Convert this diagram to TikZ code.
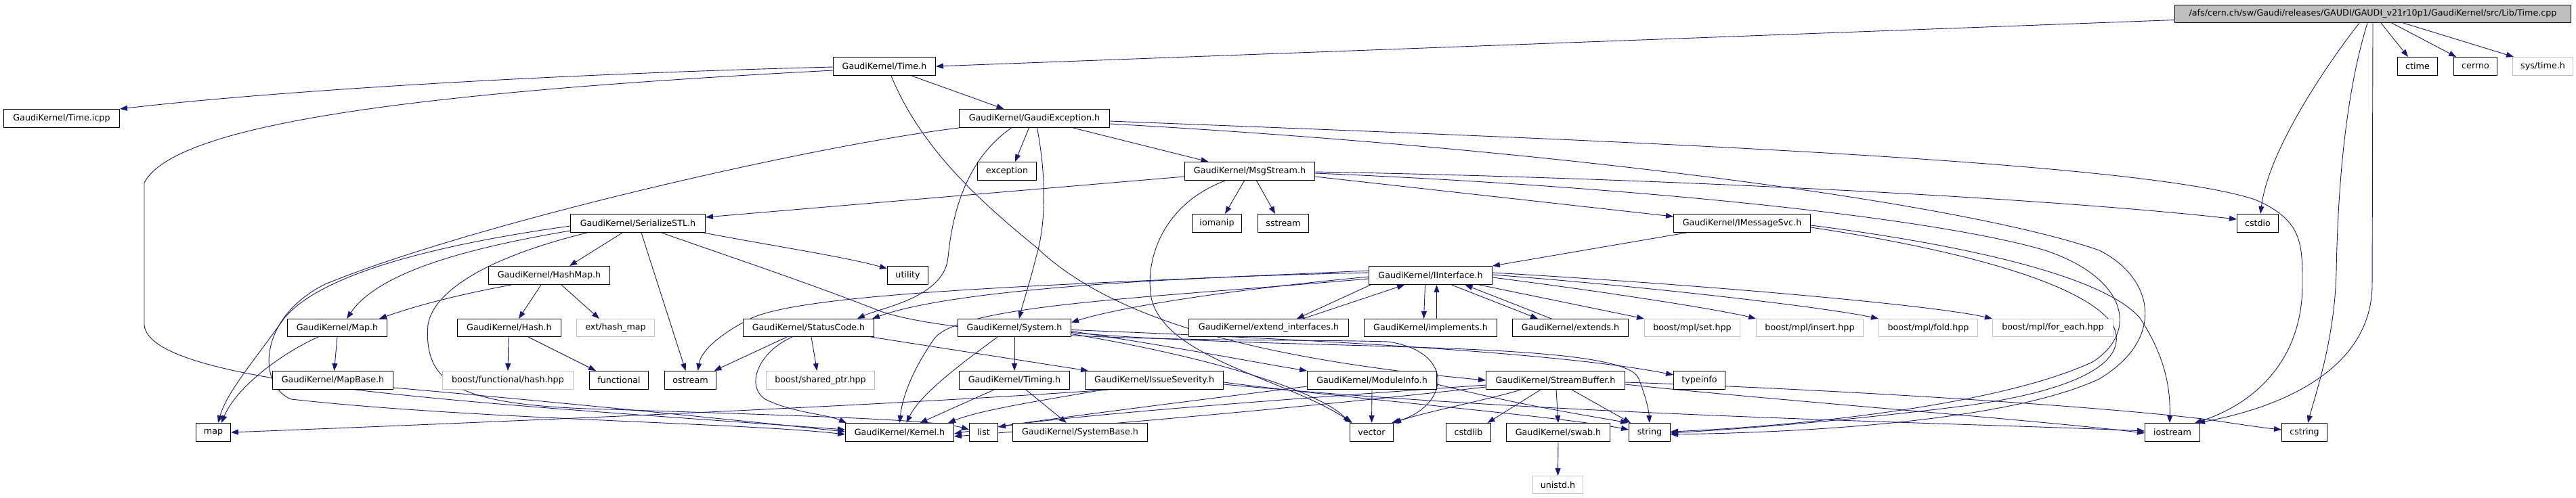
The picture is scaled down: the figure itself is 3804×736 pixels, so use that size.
\documentclass[tikz,border=0pt]{standalone}
\usepackage{fontspec}
\setmainfont{DejaVu Sans}
\usetikzlibrary{arrows.meta}
\definecolor{edgeblue}{HTML}{191970}
\definecolor{missgray}{HTML}{BFBFBF}
\pgfdeclarelayer{bg}
\pgfsetlayers{bg,main}
\begin{document}
\begin{tikzpicture}[x=1pt,y=-1pt,
  box/.style={draw=black, fill=white, line width=1pt, inner sep=0pt, rectangle, anchor=north west, font=\fontsize{12.7}{15}\selectfont},
  miss/.style={box, draw=missgray},
  edge/.style={draw=edgeblue, line width=0.9pt, -{Triangle[length=11pt,width=8pt]}}]
\begin{pgfonlayer}{bg}
\fill[white] (0,0) rectangle (3804,736);
\end{pgfonlayer}
\useasboundingbox (0,0) rectangle (3804,736);
% ---------------- nodes ----------------
\node[box, fill=missgray, minimum width=585pt, minimum height=26pt] (root) at (3211,7) {/afs/cern.ch/sw/Gaudi/releases/GAUDI/GAUDI\_v21r10p1/GaudiKernel/src/Lib/Time.cpp};
\node[box, minimum width=151pt, minimum height=27pt] (timeh) at (1230,84) {GaudiKernel/Time.h};
\node[box, minimum width=59pt, minimum height=27pt] (ctime) at (3540,84) {ctime};
\node[box, minimum width=64pt, minimum height=27pt] (cerrno) at (3623,84) {cerrno};
\node[miss, minimum width=89pt, minimum height=27pt] (systime) at (3710,84) {sys/time.h};
\node[box, minimum width=171pt, minimum height=27pt] (timeicpp) at (5,161) {GaudiKernel/Time.icpp};
\node[box, minimum width=222pt, minimum height=27pt] (gexc) at (1416,161) {GaudiKernel/GaudiException.h};
\node[box, minimum width=87pt, minimum height=27pt] (exception) at (1443,239) {exception};
\node[box, minimum width=192pt, minimum height=27pt] (msgstream) at (1749,239) {GaudiKernel/MsgStream.h};
\node[box, minimum width=199pt, minimum height=27pt] (serial) at (842,316) {GaudiKernel/SerializeSTL.h};
\node[box, minimum width=73pt, minimum height=27pt] (iomanip) at (1760,316) {iomanip};
\node[box, minimum width=75pt, minimum height=27pt] (sstream) at (1857,316) {sstream};
\node[box, minimum width=202pt, minimum height=27pt] (imsg) at (2471,316) {GaudiKernel/IMessageSvc.h};
\node[box, minimum width=61pt, minimum height=27pt] (cstdio) at (3303,316) {cstdio};
\node[box, minimum width=179pt, minimum height=27pt] (hashmap) at (721,393) {GaudiKernel/HashMap.h};
\node[box, minimum width=60pt, minimum height=27pt] (utility) at (1310,393) {utility};
\node[box, minimum width=182pt, minimum height=27pt] (iinterface) at (2021,393) {GaudiKernel/IInterface.h};
\node[box, minimum width=147pt, minimum height=26pt] (maph) at (424,471) {GaudiKernel/Map.h};
\node[box, minimum width=153pt, minimum height=26pt] (hashh) at (675,471) {GaudiKernel/Hash.h};
\node[miss, minimum width=115pt, minimum height=26pt] (exthash) at (851,471) {ext/hash\_map};
\node[box, minimum width=193pt, minimum height=26pt] (statuscode) at (1097,471) {GaudiKernel/StatusCode.h};
\node[box, minimum width=167pt, minimum height=26pt] (system) at (1414,471) {GaudiKernel/System.h};
\node[box, minimum width=236pt, minimum height=26pt] (extint) at (1755,471) {GaudiKernel/extend\_interfaces.h};
\node[box, minimum width=196pt, minimum height=26pt] (implements) at (2014,471) {GaudiKernel/implements.h};
\node[box, minimum width=171pt, minimum height=26pt] (extends) at (2233,471) {GaudiKernel/extends.h};
\node[miss, minimum width=141pt, minimum height=26pt] (mplset) at (2428,471) {boost/mpl/set.hpp};
\node[miss, minimum width=158pt, minimum height=26pt] (mplinsert) at (2593,471) {boost/mpl/insert.hpp};
\node[miss, minimum width=146pt, minimum height=26pt] (mplfold) at (2774,471) {boost/mpl/fold.hpp};
\node[miss, minimum width=178pt, minimum height=26pt] (mplforeach) at (2942,471) {boost/mpl/for\_each.hpp};
\node[box, minimum width=178pt, minimum height=27pt] (mapbase) at (402,548) {GaudiKernel/MapBase.h};
\node[miss, minimum width=193pt, minimum height=27pt] (bfhash) at (653,548) {boost/functional/hash.hpp};
\node[box, minimum width=87pt, minimum height=27pt] (functional) at (870,548) {functional};
\node[box, minimum width=76pt, minimum height=27pt] (ostream) at (981,548) {ostream};
\node[miss, minimum width=160pt, minimum height=27pt] (bshared) at (1131,548) {boost/shared\_ptr.hpp};
\node[box, minimum width=163pt, minimum height=27pt] (timing) at (1416,548) {GaudiKernel/Timing.h};
\node[box, minimum width=204pt, minimum height=27pt] (issue) at (1602,548) {GaudiKernel/IssueSeverity.h};
\node[box, minimum width=191pt, minimum height=27pt] (moduleinfo) at (1930,548) {GaudiKernel/ModuleInfo.h};
\node[box, minimum width=205pt, minimum height=27pt] (streambuf) at (2194,548) {GaudiKernel/StreamBuffer.h};
\node[box, minimum width=76pt, minimum height=27pt] (typeinfo) at (2471,548) {typeinfo};
\node[box, minimum width=51pt, minimum height=27pt] (map) at (289,625) {map};
\node[box, minimum width=160pt, minimum height=27pt] (kernel) at (1248,625) {GaudiKernel/Kernel.h};
\node[box, minimum width=42pt, minimum height=27pt] (list) at (1431,625) {list};
\node[box, minimum width=199pt, minimum height=27pt] (systembase) at (1495,625) {GaudiKernel/SystemBase.h};
\node[box, minimum width=64pt, minimum height=27pt] (vector) at (1993,625) {vector};
\node[box, minimum width=66pt, minimum height=27pt] (cstdlib) at (2135,625) {cstdlib};
\node[box, minimum width=153pt, minimum height=27pt] (swab) at (2224,625) {GaudiKernel/swab.h};
\node[box, minimum width=61pt, minimum height=27pt] (string) at (2405,625) {string};
\node[box, minimum width=81pt, minimum height=27pt] (iostream) at (3167,625) {iostream};
\node[box, minimum width=67pt, minimum height=27pt] (cstring) at (3369,625) {cstring};
\node[miss, minimum width=74pt, minimum height=26pt] (unistd) at (2263,703) {unistd.h};
% ---------------- edges ----------------
\begin{pgfonlayer}{bg}
% root
\draw[edge] ([yshift=-9pt]root.west) -- (timeh.east);
\draw[edge] ([xshift=-20pt]root.south) .. controls (3440,90) and (3350,220) .. ([xshift=4pt]cstdio.north);
\draw[edge] ([xshift=-8pt]root.south) .. controls (3460,150) and (3452,300) .. (3450,400) .. controls (3448,500) and (3420,580) .. ([xshift=5pt]cstring.north);
\draw[edge] (root.south) -- (3503,420) .. controls (3503,540) and (3380,600) .. ([xshift=-4pt]iostream.north east);
\draw[edge] ([xshift=12pt]root.south) -- ([xshift=-14pt]ctime.north);
\draw[edge] ([xshift=28pt]root.south) -- ([xshift=4pt]cerrno.north west);
\draw[edge] ([xshift=45pt]root.south) -- ([xshift=2pt]systime.north west);
% Time.h
\draw[edge] ([yshift=-1pt]timeh.west) .. controls (800,110) and (400,135) .. (timeicpp.north east);
\draw[edge] ([yshift=-6pt]timeh.west) .. controls (640,135) and (260,180) .. (213,270) -- (213,480) .. controls (220,570) and (700,595) .. ([yshift=4pt]kernel.west);
\draw[edge] ([xshift=40pt]timeh.south) -- ([xshift=-45pt]gexc.north);
\draw[edge] ([xshift=10pt]timeh.south) .. controls (1360,220) and (1450,300) .. (1531,366) .. controls (1640,470) and (1850,530) .. (streambuf.west);
% GaudiException.h
\draw[edge] ([xshift=-8pt]gexc.south) -- ([xshift=12pt]exception.north);
\draw[edge] ([xshift=57pt]gexc.south) -- ([xshift=-61pt]msgstream.north);
\draw[edge] ([xshift=-34pt]gexc.south) .. controls (1420,240) and (1405,330) .. (1400,380) .. controls (1395,440) and (1300,455) .. ([xshift=-25pt]statuscode.north east);
\draw[edge] ([xshift=4pt]gexc.south) .. controls (1545,260) and (1545,330) .. (1530,380) .. controls (1520,420) and (1510,450) .. ([xshift=7pt]system.north);
\draw[edge] (gexc.south west) .. controls (1200,215) and (700,330) .. (480,420) .. controls (380,470) and (380,570) .. (430,590) .. controls (700,620) and (1100,625) .. ([yshift=-3pt]kernel.west);
\draw[edge] ([yshift=-4pt]gexc.east) .. controls (2300,205) and (3150,235) .. (3330,295) .. controls (3400,325) and (3400,360) .. (3400,420) .. controls (3400,540) and (3320,600) .. ([xshift=-8pt]iostream.north east);
\draw[edge] ([yshift=-8pt]gexc.east) .. controls (2300,220) and (2900,300) .. (3100,370) .. controls (3180,410) and (3200,500) .. (3100,560) .. controls (2950,630) and (2600,640) .. ([yshift=-3pt]string.east);
% MsgStream.h
\draw[edge] ([yshift=-8pt]msgstream.west) -- ([yshift=9pt]serial.east);
\draw[edge] ([xshift=-8pt]msgstream.south) -- ([xshift=12pt]iomanip.north);
\draw[edge] ([xshift=10pt]msgstream.south) -- ([xshift=-12pt]sstream.north);
\draw[edge] ([xshift=-36pt]msgstream.south) .. controls (1720,300) and (1690,380) .. (1700,440) .. controls (1720,530) and (1900,560) .. ([xshift=4pt]vector.north west);
\draw[edge] ([yshift=-8pt]msgstream.east) -- ([yshift=10pt]imsg.west);
\draw[edge] ([yshift=-1pt]msgstream.east) .. controls (2400,262) and (3000,290) .. ([yshift=6pt]cstdio.west);
\draw[edge] ([yshift=-3pt]msgstream.east) .. controls (2400,275) and (2850,320) .. (3020,370) .. controls (3140,410) and (3160,490) .. (3090,535) .. controls (2950,600) and (2650,630) .. ([yshift=1pt]string.east);
% IMessageSvc.h
\draw[edge] ([xshift=19pt]imsg.south west) -- (iinterface.north east);
\draw[edge] ([yshift=-3pt]imsg.east) .. controls (2850,355) and (3100,400) .. (3160,470) .. controls (3200,530) and (3205,580) .. ([xshift=-4pt]iostream.north);
\draw[edge] ([yshift=-6pt]imsg.east) .. controls (2900,370) and (3080,420) .. (3120,480) .. controls (3150,540) and (3050,580) .. (2900,600) .. controls (2700,625) and (2550,635) .. ([yshift=-1pt]string.east);
% SerializeSTL.h
\draw[edge] ([yshift=-4pt]serial.west) .. controls (620,365) and (470,410) .. (420,470) .. controls (370,540) and (335,580) .. ([xshift=7pt]map.north);
\draw[edge] ([yshift=-11pt]serial.west) .. controls (700,365) and (560,400) .. ([xshift=14pt]maph.north);
\draw[edge] ([xshift=-75pt]serial.south) .. controls (720,380) and (640,430) .. (632,480) .. controls (625,570) and (680,600) .. (900,605) .. controls (1200,615) and (1380,620) .. ([yshift=4pt]list.west);
\draw[edge] ([xshift=-23pt]serial.south) -- ([xshift=30pt]hashmap.north);
\draw[edge] ([xshift=5pt]serial.south) -- ([xshift=-7pt]ostream.north);
\draw[edge] ([xshift=35pt]serial.south) .. controls (1050,370) and (1200,420) .. (1300,460) .. controls (1450,510) and (1900,500) .. (2050,505) .. controls (2150,520) and (2140,600) .. ([xshift=-3pt]vector.north east);
\draw[edge] ([xshift=-3pt]serial.south east) .. controls (1150,365) and (1250,380) .. ([yshift=10pt]utility.west);
% HashMap.h
\draw[edge] ([xshift=-56pt]hashmap.south) .. controls (680,435) and (620,450) .. ([xshift=-12pt]maph.north east);
\draw[edge] ([xshift=-12pt]hashmap.south) -- ([xshift=14pt]hashh.north);
\draw[edge] ([xshift=18pt]hashmap.south) -- ([xshift=-24pt]exthash.north);
% Map.h, MapBase.h, Hash.h
\draw[edge] ([xshift=-28pt]maph.south) .. controls (420,520) and (350,570) .. ([xshift=12pt]map.north);
\draw[edge] (maph.south) -- ([xshift=2pt]mapbase.north);
\draw[edge] ([yshift=-11pt]mapbase.east) .. controls (800,592) and (1100,622) .. ([yshift=1pt]kernel.west);
\draw[edge] ([xshift=-1pt]hashh.south) -- (bfhash.north);
\draw[edge] ([xshift=28pt]hashh.south) -- ([xshift=-34pt]functional.north);
% StatusCode.h
\draw[edge] ([xshift=-32pt]statuscode.south) -- ([xshift=35pt]ostream.north);
\draw[edge] ([xshift=4pt]statuscode.south) -- ([xshift=-5pt]bshared.north);
\draw[edge] ([xshift=-5pt]statuscode.south east) -- ([xshift=5pt]issue.north west);
\draw[edge] ([xshift=-24pt]statuscode.south) .. controls (1120,520) and (1100,570) .. (1130,590) .. controls (1170,610) and (1220,612) .. ([xshift=2pt]kernel.north west);
% IInterface.h
\draw[edge] ([yshift=4pt]iinterface.west) .. controls (1700,410) and (1400,430) .. ([xshift=-3pt]statuscode.north east);
\draw[edge] ([yshift=-2pt]iinterface.west) .. controls (1800,430) and (1650,455) .. ([yshift=8pt]system.east);
\draw[edge] ([yshift=7pt]iinterface.west) .. controls (1600,420) and (1200,430) .. (1110,470) .. controls (1060,495) and (1035,520) .. ([xshift=11pt]ostream.north);
\draw[edge] ([yshift=-5pt]iinterface.west) .. controls (1700,440) and (1420,450) .. (1380,500) .. controls (1345,550) and (1332,590) .. (kernel.north);
\draw[edge] ([xshift=3pt]iinterface.south west) -- ([xshift=-77pt]extint.north east);
\draw[edge] ([xshift=-68pt]extint.north east) -- ([xshift=53pt]iinterface.south west);
\draw[edge] ([xshift=-8pt]iinterface.south) -- ([xshift=-10pt]implements.north);
\draw[edge] ([xshift=9pt]implements.north) -- ([xshift=9pt]iinterface.south);
\draw[edge] ([xshift=31pt]iinterface.south) -- ([xshift=-48pt]extends.north);
\draw[edge] ([xshift=-28pt]extends.north) -- ([xshift=51pt]iinterface.south);
\draw[edge] ([xshift=72pt]iinterface.south) -- (mplset.north west);
\draw[edge] ([yshift=-3pt]iinterface.east) .. controls (2400,435) and (2550,460) .. (mplinsert.north west);
\draw[edge] ([yshift=1pt]iinterface.east) .. controls (2450,425) and (2700,455) .. (mplfold.north west);
\draw[edge] ([yshift=4pt]iinterface.east) .. controls (2500,420) and (2850,450) .. (mplforeach.north west);
% System.h
\draw[edge] ([xshift=-25pt]system.south) .. controls (1430,530) and (1360,580) .. ([xshift=10pt]kernel.north);
\draw[edge] (system.south) -- (timing.north);
\draw[edge] ([yshift=-5pt]system.east) .. controls (1750,515) and (1850,535) .. (moduleinfo.north west);
\draw[edge] ([yshift=-7pt]system.east) .. controls (1900,520) and (2400,500) .. (2420,560) .. controls (2432,590) and (2435,610) .. (string.north);
\draw[edge] ([yshift=-3pt]system.east) .. controls (1900,500) and (2300,520) .. ([yshift=8pt]typeinfo.west);
\draw[edge] ([yshift=-9pt]system.east) .. controls (1800,530) and (1950,580) .. ([xshift=1pt]vector.north west);
% Timing.h
\draw[edge] ([xshift=-30pt]timing.south) -- ([xshift=30pt]kernel.north);
\draw[edge] ([xshift=17pt]timing.south) -- ([xshift=-20pt]systembase.north);
% IssueSeverity.h
\draw[edge] ([xshift=-68pt]issue.south) .. controls (1300,600) and (700,625) .. (map.east);
\draw[edge] ([xshift=-75pt]issue.south) .. controls (1550,590) and (1450,605) .. ([xshift=-9pt]kernel.north east);
\draw[edge] ([yshift=-3pt]issue.east) .. controls (2000,590) and (2300,615) .. ([yshift=4pt]string.west);
\draw[edge] ([yshift=-6pt]issue.east) .. controls (2300,615) and (2900,625) .. ([yshift=2pt]iostream.west);
% ModuleInfo.h
\draw[edge] ([yshift=-9pt]moduleinfo.west) .. controls (1700,600) and (1500,625) .. ([yshift=-2pt]kernel.east);
\draw[edge] (moduleinfo.south) -- (vector.north);
\draw[edge] ([yshift=-6pt]moduleinfo.east) .. controls (2250,600) and (2350,615) .. ([xshift=-1pt]string.north west);
% StreamBuffer.h
\draw[edge] ([xshift=-51pt]streambuf.south) .. controls (2200,590) and (2100,610) .. (vector.north east);
\draw[edge] ([xshift=-22pt]streambuf.south) -- ([xshift=28pt]cstdlib.north);
\draw[edge] ([xshift=1pt]streambuf.south) -- (swab.north);
\draw[edge] ([xshift=24pt]streambuf.south) -- ([xshift=3pt]string.north west);
\draw[edge] ([yshift=-7pt]streambuf.west) .. controls (1900,590) and (1600,612) .. ([yshift=8pt]list.east);
\draw[edge] ([yshift=-10pt]streambuf.west) .. controls (1900,605) and (1600,630) .. ([yshift=-6pt]kernel.east);
\draw[edge] ([yshift=-6pt]streambuf.east) .. controls (2600,590) and (3000,620) .. ([yshift=-1pt]iostream.west);
\draw[edge] ([yshift=-3pt]streambuf.east) .. controls (2700,575) and (3100,600) .. (3260,620) .. controls (3300,626) and (3340,632) .. ([yshift=4pt]cstring.west);
% swab.h
\draw[edge] (swab.south) -- (unistd.north);
\end{pgfonlayer}
\end{tikzpicture}
\end{document}
